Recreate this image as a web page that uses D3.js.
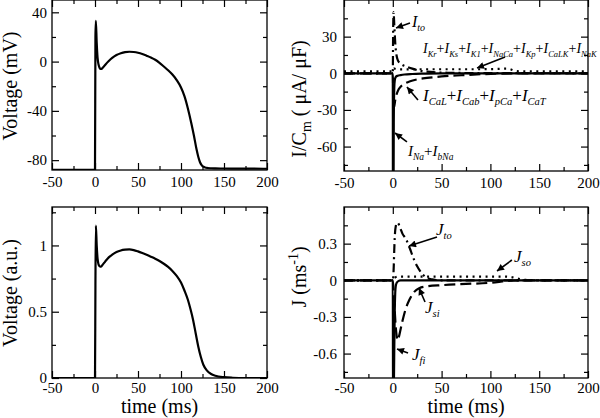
<!DOCTYPE html>
<html><head><meta charset="utf-8">
<script src="https://cdn.jsdelivr.net/npm/d3@7"></script>
<style>body{margin:0;background:#fff}svg{display:block}text{font-family:"Liberation Serif","Times New Roman",serif;fill:#000}</style>
</head><body><svg id="c" width="600" height="418"></svg>
<script>
// ---------- tick values ----------
const xTicks = [-50, 0, 50, 100, 150, 200];
const xMinor = [-25, 25, 75, 125, 175];
const yTicksMV = [40, 0, -40, -80];
const yMinorMV = [20, -20, -60];
const yTicksI = [30, 0, -30, -60];
const yMinorI = [45, 15, -15, -45, -75];
const yTicksU = [0, 0.5, 1];
const yMinorU = [0.25, 0.75, 1.25];
const yTicksJ = [0.3, 0, -0.3, -0.6];
const yMinorJ = [0.45, 0.15, -0.15, -0.45, -0.75];

// ---------- panel A: voltage (mV) ----------
const tV  = [-50, 0, 0.5, 1, 2, 3, 4, 5, 6, 7, 9, 12, 16, 20, 25, 30, 35, 40, 45, 50, 55, 60, 65, 70, 75, 80, 85, 90, 95, 100, 104, 108, 112, 115, 118, 120, 122, 124, 126, 128, 131, 135, 140, 150, 170, 200];
const vMV = [-87.8, -87.8, 20, 33, 15, 3, -2, -4.5, -5.8, -6, -5, -2.5, 0.5, 3, 5.3, 6.8, 7.7, 8, 7.8, 7.2, 6.2, 4.8, 3.3, 1.5, -1, -4, -7, -10.5, -15, -21, -28, -38, -50, -60, -71, -77, -81.5, -84, -85.3, -86, -86.4, -86.6, -86.7, -86.8, -86.9, -87];

// ---------- panel B: ionic currents (uA/uF) ----------
const tINa = [-50, 0, 0.25, 0.6, 1, 1.5, 2, 3, 5, 8, 12, 20, 30, 50, 200];
const iNa  = [0, 0, -250, -150, -40, -12, -6, -3, -2, -1.5, -1, -0.6, -0.3, 0, 0];
const tCaL = [-50, 0, 0.5, 1, 1.5, 2.5, 4, 6, 8, 12, 17, 25, 35, 50, 70, 90, 110, 125, 140, 200];
const iCaL = [0, 0, -20, -28, -27, -22, -17, -13, -11, -8.5, -6.8, -5, -3.8, -2.6, -1.6, -0.8, -0.3, -0.1, 0, 0];
const tTo  = [-50, 0, 0.3, 0.8, 1.5, 2, 2.5, 3, 4, 5, 7, 10, 14, 20, 27, 35, 45, 60, 80, 100, 200];
const iTo  = [0, 0, 30, 50, 40, 32, 25, 20, 14, 11, 8.5, 6.8, 5.5, 3.8, 2.2, 1.3, 0.7, 0.4, 0.2, 0.1, 0];
const tK   = [-50, 0, 1, 3, 6, 20, 50, 80, 100, 110, 116, 120, 123, 126, 130, 140, 200];
const iK   = [1.5, 1.5, 4, 3.5, 3.2, 3.3, 3.3, 3.3, 3.4, 3.6, 3.8, 3.4, 2.6, 1.9, 1.6, 1.5, 1.5];

// ---------- panel C: voltage (a.u.) ----------
const tU  = [-50, 0, 0.5, 1, 2, 3, 4, 5, 6, 7, 9, 12, 16, 20, 25, 30, 35, 40, 45, 50, 55, 60, 65, 70, 75, 80, 85, 90, 95, 100, 104, 108, 111, 114, 117, 120, 123, 126, 130, 135, 140, 150, 160, 175, 200];
const uAU = [0, 0, 0.7, 1.15, 1.0, 0.9, 0.86, 0.845, 0.84, 0.84, 0.855, 0.88, 0.91, 0.93, 0.95, 0.962, 0.968, 0.97, 0.965, 0.955, 0.943, 0.93, 0.915, 0.9, 0.883, 0.862, 0.838, 0.808, 0.77, 0.72, 0.66, 0.59, 0.52, 0.44, 0.34, 0.24, 0.16, 0.1, 0.058, 0.03, 0.017, 0.006, 0.002, 0, 0];

// ---------- panel D: model currents (1/ms) ----------
const tFi = [-50, 0, 0.3, 0.8, 1.2, 1.6, 2, 2.5, 3, 4, 6, 8, 200];
const jFi = [0, 0, -1.2, -1.0, -0.8, -0.5, -0.25, -0.1, -0.05, -0.02, -0.005, 0, 0];
const tTo2 = [-50, 0, 0.5, 1, 1.5, 2, 2.5, 3, 4, 5, 6, 7, 8, 10, 12, 14, 16, 18, 20, 22, 25, 28, 31, 35, 40, 45, 50, 200];
const jTo  = [0, 0, 0.03, 0.12, 0.25, 0.35, 0.41, 0.44, 0.465, 0.47, 0.46, 0.44, 0.42, 0.38, 0.355, 0.33, 0.29, 0.25, 0.205, 0.165, 0.115, 0.075, 0.045, 0.02, 0.007, 0.002, 0, 0];
const tSo = [-50, 0, 2, 5, 10, 50, 100, 115, 120, 125, 130, 135, 145, 200];
const jSo = [0, 0, 0.02, 0.03, 0.03, 0.03, 0.03, 0.03, 0.028, 0.02, 0.01, 0.004, 0, 0];
const tSi = [-50, 0, 1, 2, 3, 4, 5, 6, 8, 10, 13, 17, 22, 27, 35, 50, 75, 100, 112, 120, 130, 200];
const jSi = [0, 0, -0.1, -0.25, -0.38, -0.46, -0.49, -0.47, -0.4, -0.33, -0.24, -0.16, -0.095, -0.065, -0.05, -0.04, -0.03, -0.02, -0.01, -0.003, 0, 0];

const DASH = "11,5", DASHDOT = "9,4,2,4", DOT = "2,4.5";

const svg = d3.select("#c");
svg.append("defs").append("marker").attr("id","ah").attr("viewBox","0 0 10 10")
  .attr("refX",10).attr("refY",5).attr("markerWidth",8).attr("markerHeight",7)
  .attr("markerUnits","userSpaceOnUse").attr("orient","auto")
  .append("path").attr("d","M0,0L10,5L0,10z").attr("fill","#000");

const panels = [
  {id:"A", x0:52, x1:267, y0:0, y1:170, yDom:[-88,50], yT:yTicksMV, yM:yMinorMV, pad:5, xpad:6,
   series:[{t:tV, v:vMV, dash:null}]},
  {id:"B", x0:344, x1:588, y0:0, y1:171, yDom:[-80,60], yT:yTicksI, yM:yMinorI, pad:7, xpad:6,
   series:[{t:tK, v:iK, dash:DOT},{t:tTo, v:iTo, dash:DASHDOT},{t:tCaL, v:iCaL, dash:DASH},{t:tINa, v:iNa, dash:null}]},
  {id:"C", x0:52, x1:267, y0:207, y1:378, yDom:[0,1.29], yT:yTicksU, yM:yMinorU, pad:5, xpad:4,
   series:[{t:tU, v:uAU, dash:null}]},
  {id:"D", x0:344, x1:588, y0:207, y1:378, yDom:[-0.8,0.6], yT:yTicksJ, yM:yMinorJ, pad:7, xpad:4,
   series:[{t:tSo, v:jSo, dash:DOT},{t:tTo2, v:jTo, dash:DASHDOT},{t:tSi, v:jSi, dash:DASH},{t:tFi, v:jFi, dash:null}]}
];

panels.forEach(p => {
  const x = d3.scaleLinear().domain([-50,200]).range([p.x0,p.x1]);
  const y = d3.scaleLinear().domain(p.yDom).range([p.y1,p.y0]);
  p.x = x; p.y = y;
  const g = svg.append("g");
  g.append("clipPath").attr("id","clip"+p.id).append("rect")
    .attr("x",p.x0).attr("y",p.y0).attr("width",p.x1-p.x0).attr("height",p.y1-p.y0);
  const line = d3.line().x(d=>x(d[0])).y(d=>y(d[1])).curve(d3.curveMonotoneX);
  const cg = g.append("g").attr("clip-path","url(#clip"+p.id+")");
  p.series.forEach(s => {
    cg.append("path").datum(s.t.map((t,i)=>[t,s.v[i]]))
      .attr("d",line).attr("fill","none").attr("stroke","#000")
      .attr("stroke-width",2.2).attr("stroke-dasharray",s.dash)
      .attr("stroke-linejoin","round");
  });
  const fmt = d => String(d);
  const styleAxis = (sel) => { sel.select(".domain").remove();
    sel.selectAll("line").attr("stroke","#000").attr("stroke-width",1.2);
    sel.selectAll("text").attr("font-size",15).attr("font-family","Liberation Serif").attr("fill","#000"); };
  g.append("g").attr("transform",`translate(0,${p.y1})`)
    .call(d3.axisBottom(x).tickValues(xTicks).tickSize(-7).tickPadding(p.xpad).tickFormat(fmt)).call(styleAxis);
  g.append("g").attr("transform",`translate(0,${p.y1})`)
    .call(d3.axisBottom(x).tickValues(xMinor).tickSize(-4).tickFormat("")).call(styleAxis);
  g.append("g").attr("transform",`translate(0,${p.y0})`)
    .call(d3.axisTop(x).tickValues(xTicks).tickSize(-7).tickFormat("")).call(styleAxis);
  g.append("g").attr("transform",`translate(0,${p.y0})`)
    .call(d3.axisTop(x).tickValues(xMinor).tickSize(-4).tickFormat("")).call(styleAxis);
  g.append("g").attr("transform",`translate(${p.x0},0)`)
    .call(d3.axisLeft(y).tickValues(p.yT).tickSize(-7).tickPadding(p.pad).tickFormat(fmt)).call(styleAxis);
  g.append("g").attr("transform",`translate(${p.x0},0)`)
    .call(d3.axisLeft(y).tickValues(p.yM).tickSize(-4).tickFormat("")).call(styleAxis);
  g.append("g").attr("transform",`translate(${p.x1},0)`)
    .call(d3.axisRight(y).tickValues(p.yT).tickSize(-7).tickFormat("")).call(styleAxis);
  g.append("g").attr("transform",`translate(${p.x1},0)`)
    .call(d3.axisRight(y).tickValues(p.yM).tickSize(-4).tickFormat("")).call(styleAxis);
  g.append("rect").attr("x",p.x0).attr("y",p.y0).attr("width",p.x1-p.x0).attr("height",p.y1-p.y0)
    .attr("fill","none").attr("stroke","#000").attr("stroke-width",1.3);
});

// rich text helper: parts [text, mode] mode 0 normal, 1 subscript, 2 superscript
function rich(sel, parts, size, subSize, shift, italicMain) {
  let off = 0;
  parts.forEach(([txt, mode]) => {
    const target = mode===1 ? shift : mode===2 ? -shift*1.6 : 0;
    const ts = sel.append("tspan").attr("dy", target - off).text(txt)
      .attr("font-size", mode ? subSize : size);
    if (italicMain && txt !== "+") ts.attr("font-style","italic");
    off = target;
  });
}

// axis titles
const titleSize = 20;
function yTitle(px, py, parts) {
  const t = svg.append("text").attr("transform",`translate(${px},${py}) rotate(-90)`)
    .attr("text-anchor","middle").attr("font-size",titleSize);
  rich(t, parts, titleSize, 14, 5, false);
}
yTitle(17, 86, [["Voltage (mV)",0]]);
yTitle(17, 293, [["Voltage (a.u.)",0]]);
yTitle(306, 99, [["I/C",0],["m",1],[" ( \u03bcA/ \u03bcF)",0]]);
yTitle(306, 277, [["J (ms",0],["-1",2],[")",0]]);
[panels[2], panels[3]].forEach(p => {
  svg.append("text").attr("x",(p.x0+p.x1)/2).attr("y",413).attr("text-anchor","middle")
    .attr("font-size",titleSize).text("time (ms)");
});

// annotations (positions in data units of each panel)
const annB = [
  {text:[["I",0],["to",1]], size:[16,10], at:[19.7,37.5], from:[17.6,41.2], to:[3.3,37.1]},
  {text:[["I",0],["Kr",1],["+",0],["I",0],["Ks",1],["+",0],["I",0],["K1",1],["+",0],["I",0],["NaCa",1],["+",0],["I",0],["Kp",1],["+",0],["I",0],["CaLK",1],["+",0],["I",0],["NaK",1]], size:[14,8.5], at:[30.9,17], from:[115,13.3], to:[86.3,4.3]},
  {text:[["I",0],["CaL",1],["+",0],["I",0],["Cab",1],["+",0],["I",0],["pCa",1],["+",0],["I",0],["CaT",1]], size:[17,10.5], at:[30.9,-22.7], from:[25.8,-21.9], to:[14.5,-11.2]},
  {text:[["I",0],["Na",1],["+",0],["I",0],["bNa",1]], size:[15,9.5], at:[15.6,-67.8], from:[14.5,-56.2], to:[2.3,-48.9]}
];
const annD = [
  {text:[["J",0],["to",1]], size:[17,10.5], at:[44.3,0.37], from:[45.3,0.354], to:[16.6,0.281]},
  {text:[["J",0],["so",1]], size:[17,10.5], at:[124.2,0.15], from:[122,0.166], to:[106.8,0.076]},
  {text:[["J",0],["si",1]], size:[17,10.5], at:[33,-0.268], from:[33,-0.178], to:[26.8,-0.063]},
  {text:[["J",0],["fi",1]], size:[17,10.5], at:[19.7,-0.653], from:[15.6,-0.595], to:[4.3,-0.562]}
];
[[panels[1], annB],[panels[3], annD]].forEach(([p, anns]) => {
  anns.forEach(a => {
    svg.append("line").attr("x1",p.x(a.from[0])).attr("y1",p.y(a.from[1]))
      .attr("x2",p.x(a.to[0])).attr("y2",p.y(a.to[1]))
      .attr("stroke","#000").attr("stroke-width",1.6).attr("marker-end","url(#ah)");
    const t = svg.append("text").attr("x",p.x(a.at[0])).attr("y",p.y(a.at[1]));
    rich(t, a.text, a.size[0], a.size[1], 4, true);
  });
});
</script></body></html>
